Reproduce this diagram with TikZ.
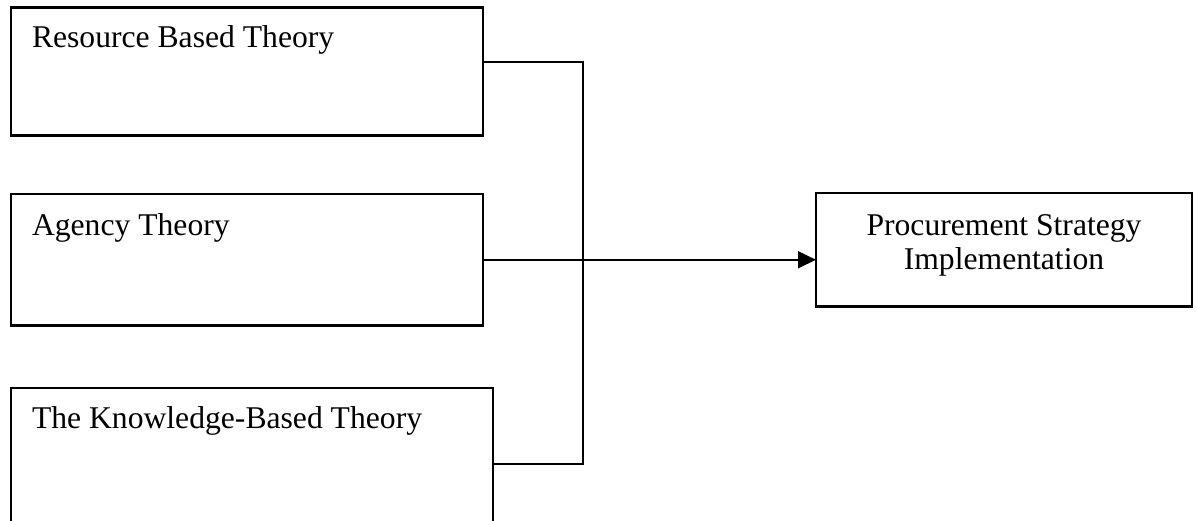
\documentclass[tikz,border=0pt]{standalone}
\usepackage{fontspec}
\setmainfont{Liberation Serif}
\usetikzlibrary{arrows.meta,calc}
\begin{document}
\begin{tikzpicture}[x=0.025cm,y=-0.025cm,
  box/.style={draw=black,line width=1.6pt,rectangle,inner sep=0pt,outer sep=0pt,anchor=north west},
  lbl/.style={font=\fontsize{22.5}{24.6}\selectfont,inner sep=0pt,outer sep=0pt},
  conn/.style={draw=black,line width=1.7pt}]
\clip (0,0) rectangle (1197,520);
\fill[white] (0,0) rectangle (1197,520);
% boxes
\node[box,minimum width=11.8cm,minimum height=3.2cm] (b1) at (11,7.5) {};
\node[box,minimum width=11.8cm,minimum height=3.2875cm] (b2) at (11,194) {};
\node[box,minimum width=12.05cm,minimum height=3.75cm] (b3) at (11,388) {};
\node[box,minimum width=9.4cm,minimum height=2.8375cm] (p) at (816,193) {};
% labels
\node[lbl,anchor=base west] (t1) at (32,47.5) {Resource Based Theory};
\node[lbl,anchor=base west] (t2) at (32,235) {Agency Theory};
\node[lbl,anchor=base west] (t3) at (32,428) {The Knowledge-Based Theory};
\node[lbl,align=center] (tp) at (1004,245.5) {Procurement Strategy\\Implementation};
% connectors
\coordinate (j1) at (583,62);
\coordinate (j3) at (583,464);
\draw[conn] (b1.east |- j1) -- (j1) -- (j3) -- (b3.east |- j3);
\draw[conn,-{Triangle[length=0.45cm,width=0.42cm]}] (b2.east) -- (b2.east -| p.west);
\end{tikzpicture}
\end{document}
